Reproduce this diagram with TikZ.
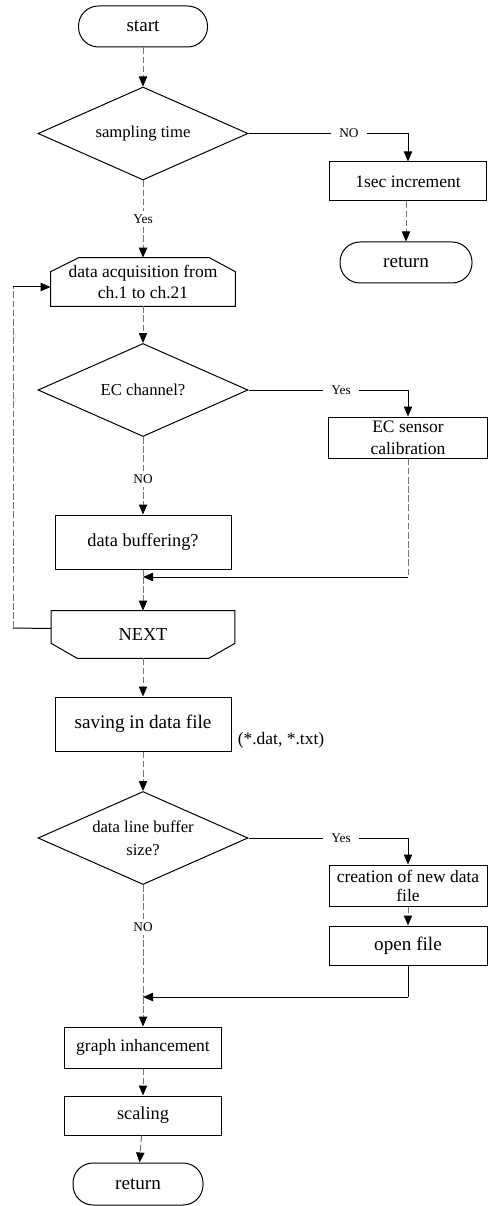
\documentclass[tikz,border=0pt]{standalone}
\usepackage{fontspec}
\setmainfont{Liberation Serif}
\usetikzlibrary{arrows.meta,shapes.geometric,calc}
\begin{document}
\begin{tikzpicture}[x=0.6pt,y=-0.6pt,
  every node/.style={font=\fontsize{10.5}{13}\selectfont},
  boxn/.style={draw, line width=0.6pt, rectangle, inner sep=1pt, align=center},
  plain/.style={draw=none, rectangle, inner sep=1pt, align=center},
  term/.style={draw, line width=0.6pt, rectangle, rounded corners=12pt, inner sep=1pt, font=\fontsize{11.5}{13}\selectfont},
  dec/.style={draw, line width=0.6pt, diamond, aspect=2.26, inner sep=0pt, minimum width=126pt, minimum height=55.8pt, align=center, font=\fontsize{10}{14}\selectfont},
  lbl/.style={fill=white, inner xsep=5pt, inner ysep=2pt, font=\fontsize{8}{9}\selectfont},
  tip/.style={-{Triangle[length=6pt,width=5pt,black]}},
  vcon/.style={draw=black!55, line width=0.6pt, dash pattern=on 4pt off 1.5pt},
  hcon/.style={draw=black, line width=0.6pt}]
\useasboundingbox (0,0) rectangle (491,1206);

% main column
\node[term, minimum width=77.4pt, minimum height=24.6pt] (start) at (143,26.5) {start};
\node[dec] (d1) at (143,133.5) {sampling time};
\node[plain, minimum width=110.4pt, minimum height=28.8pt] (acq) at (143,282) {data acquisition from\\ch.1 to ch.21};
\node[dec] (d2) at (143,390) {EC channel?};
\node[boxn, minimum width=105.6pt, minimum height=32.4pt, font=\fontsize{11}{13}\selectfont] (buf) at (143,542) {data buffering?};
\node[plain, minimum width=109.8pt, minimum height=28.2pt, font=\fontsize{11}{13}\selectfont] (next) at (143,634.5) {NEXT};
\node[boxn, minimum width=105.6pt, minimum height=32.4pt, font=\fontsize{11.5}{13}\selectfont] (save) at (143,724) {saving in data file};
\node (ext) at (281,740) {(*.dat, *.txt)};
\node[dec] (d3) at (143,838) {data line buffer\\size?};
\node[boxn, minimum width=94.2pt, minimum height=24.6pt] (graph) at (143,1047.5) {graph inhancement};
\node[boxn, minimum width=94.2pt, minimum height=23.4pt, font=\fontsize{11}{13}\selectfont] (scale) at (143,1115.5) {scaling};
\node[term, minimum width=78pt, minimum height=25.2pt] (ret2) at (138,1184) {return};

% right column
\node[boxn, minimum width=94.2pt, minimum height=23.4pt] (inc) at (408,181.5) {1sec increment};
\node[term, minimum width=79.2pt, minimum height=24.6pt] (ret1) at (406,262.5) {return};
\node[boxn, minimum width=95.4pt, minimum height=24.6pt] (cal) at (408,437.5) {EC sensor\\calibration};
\node[boxn, minimum width=94.8pt, minimum height=24.6pt, font=\fontsize{10.5}{11.5}\selectfont] (new) at (408,885.5) {creation of new data\\file};
\node[boxn, minimum width=94.8pt, minimum height=23.4pt, font=\fontsize{11.5}{13}\selectfont] (open) at (408,945.5) {open file};

% special outlines
\draw[line width=0.6pt] (acq.south west) -- ($(acq.north west)+(0,14)$) -- ($(acq.north west)+(28,0)$)
  -- ($(acq.north east)+(-26,0)$) -- ($(acq.north east)+(0,14)$) -- (acq.south east) -- cycle;
\draw[line width=0.6pt] (next.north west) -- ($(next.south west)+(0,-15)$) -- ($(next.south west)+(26,0)$)
  -- ($(next.south east)+(-26,0)$) -- ($(next.south east)+(0,-15)$) -- (next.north east) -- cycle;

% junctions and loop points
\coordinate (j1) at (143,577);
\coordinate (j2) at (143,997);
\coordinate (loopA) at (13,628);
\coordinate (loopB) at (13,287);

% main connectors
\draw[vcon,tip] (start) -- (d1);
\draw[vcon,tip] (d1) -- node[lbl]{Yes} (acq);
\draw[vcon,tip] (acq) -- (d2);
\draw[vcon,tip] (d2) -- node[lbl,pos=0.55]{NO} (buf);
\draw[vcon] (buf) -- (j1);
\draw[vcon,tip] (j1) -- (next);
\draw[vcon,tip] (next.south) -- (save);
\draw[vcon,tip] (save) -- (d3);
\draw[vcon] (d3) -- node[lbl,pos=0.38]{NO} (j2);
\draw[vcon,tip] (j2) -- (graph);
\draw[vcon,tip] (graph) -- (scale);
\draw[vcon,tip] (scale) -- (ret2);

% right branches
\draw[hcon,tip] (d1.east) -| node[lbl,pos=0.315]{NO} (inc.north);
\draw[vcon,tip] (inc.south -| ret1.north) -- (ret1.north);
\draw[hcon,tip] (d2.east) -| node[lbl,pos=0.29]{Yes} (cal.north);
\draw[vcon] (cal.south) -- (cal.south |- j1);
\draw[hcon,tip] (cal.south |- j1) -- (j1);
\draw[hcon,tip] (d3.east) -| node[lbl,pos=0.29]{Yes} (new.north);
\draw[vcon,tip] (new) -- (open);
\draw[hcon] (open.south) -- (open.south |- j2);
\draw[hcon,tip] (open.south |- j2) -- (j2);

% loop back
\draw[hcon] ([yshift=3.6pt]next.west) -- (loopA);
\draw[vcon] (loopA) -- (loopB);
\draw[hcon,tip] (loopB) -- (loopB -| acq.west);
\end{tikzpicture}
\end{document}
